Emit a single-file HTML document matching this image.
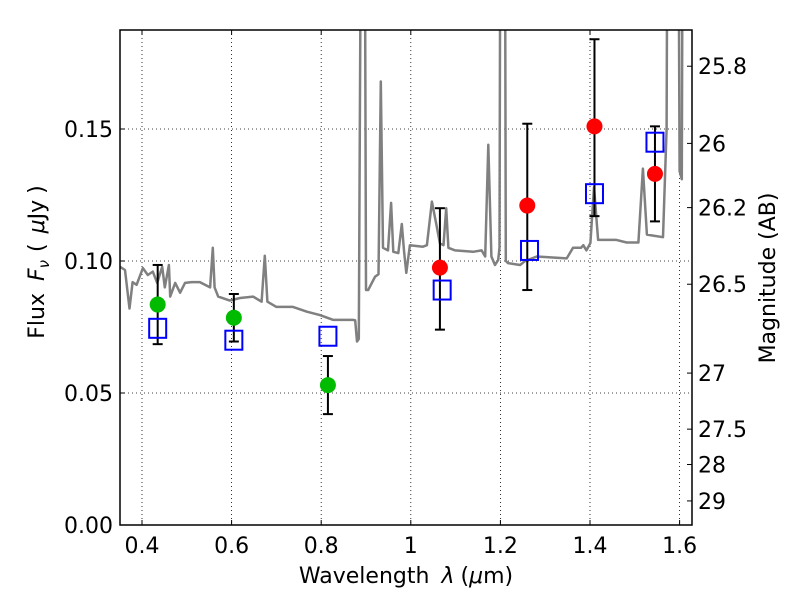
<!DOCTYPE html>
<html><head><meta charset="utf-8"><style>
body{margin:0;background:#fff;}
svg text{font-family:"DejaVu Sans","Liberation Sans",sans-serif;fill:#000;}
</style></head><body>
<svg id="chart" width="800" height="600" xmlns="http://www.w3.org/2000/svg"></svg>
<script>
const xTicks=[0.4,0.6,0.8,1.0,1.2,1.4,1.6];
const xTickLabels=["0.4","0.6","0.8","1","1.2","1.4","1.6"];
const yTicks=[0,0.05,0.10,0.15];
const yTickLabels=["0.00","0.05","0.10","0.15"];
const magTicks=[25.8,26,26.2,26.5,27,27.5,28,29];
const magLabels=["25.8","26","26.2","26.5","27","27.5","28","29"];
const greenWave=[0.435,0.605,0.815];
const greenFlux=[0.0835,0.0785,0.053];
const greenLo=[0.0685,0.0695,0.042];
const greenHi=[0.0985,0.0875,0.064];
const redWave=[1.065,1.26,1.41,1.545];
const redFlux=[0.0975,0.121,0.151,0.133];
const redLo=[0.074,0.089,0.117,0.115];
const redHi=[0.120,0.152,0.184,0.151];
const modelWave=[0.435,0.605,0.815,1.07,1.265,1.41,1.545];
const modelFlux=[0.0745,0.070,0.0715,0.089,0.104,0.1255,0.145];
const specWave=[0.351,0.362,0.372,0.379,0.388,0.402,0.413,0.424,0.434,0.445,0.451,0.46,0.463,0.474,0.485,0.496,0.511,0.529,0.552,0.558,0.562,0.57,0.596,0.619,0.648,0.667,0.674,0.68,0.70,0.737,0.768,0.797,0.827,0.871,0.876,0.880,0.884,0.889,0.893,0.897,0.9,0.905,0.92,0.928,0.933,0.938,0.949,0.956,0.961,0.972,0.98,0.985,0.99,0.998,1.027,1.036,1.047,1.058,1.065,1.073,1.079,1.084,1.099,1.139,1.158,1.166,1.173,1.18,1.188,1.195,1.198,1.2,1.21,1.212,1.217,1.244,1.255,1.281,1.348,1.362,1.38,1.385,1.392,1.401,1.409,1.418,1.429,1.459,1.482,1.496,1.508,1.518,1.527,1.563,1.571,1.573,1.597,1.60,1.605,1.607,1.63];
const specFlux=[0.0978,0.0966,0.082,0.092,0.091,0.0973,0.0947,0.096,0.0917,0.0978,0.090,0.0985,0.0865,0.0917,0.088,0.0917,0.092,0.092,0.090,0.105,0.090,0.0865,0.085,0.086,0.0865,0.0846,0.102,0.0846,0.0826,0.0826,0.0808,0.0795,0.0777,0.0777,0.0775,0.0695,0.0705,0.25,0.25,0.25,0.089,0.089,0.094,0.095,0.168,0.105,0.104,0.122,0.1035,0.103,0.114,0.1035,0.0955,0.106,0.1054,0.106,0.1225,0.113,0.1067,0.106,0.12,0.105,0.104,0.1035,0.104,0.1017,0.144,0.1017,0.0985,0.1004,0.105,0.25,0.25,0.1,0.0992,0.0985,0.1,0.1017,0.101,0.105,0.105,0.106,0.104,0.1068,0.128,0.108,0.108,0.108,0.107,0.107,0.107,0.135,0.110,0.109,0.150,0.25,0.25,0.134,0.131,0.25,0.25];

const NS="http://www.w3.org/2000/svg";
const svg=document.getElementById('chart');
const L=120,R=692,T=30,B=525;
function X(w){return 142+(w-0.4)*448;}
function Y(f){return B-f*2640;}
function mk(tag,attrs,parent){const e=document.createElementNS(NS,tag);for(const k in attrs)e.setAttribute(k,attrs[k]);(parent||svg).appendChild(e);return e;}

const defs=mk('defs',{});
const cp=mk('clipPath',{id:'clip'},defs);
mk('rect',{x:L,y:T,width:R-L,height:B-T},cp);

xTicks.forEach((t,i)=>{
  const g=mk('line',{x1:X(t),x2:X(t),y1:T,y2:B,stroke:'#000','stroke-width':0.8,'stroke-dasharray':'1,3'});
  
  
  mk('line',{x1:X(t),x2:X(t),y1:B,y2:B-5,stroke:'#000'});
  mk('line',{x1:X(t),x2:X(t),y1:T,y2:T+5,stroke:'#000'});
  const tx=mk('text',{x:X(t),y:B+28,'text-anchor':'middle','font-size':22});
  tx.textContent=xTickLabels[i];
  
  
});
yTicks.forEach((t,i)=>{
  if(t>0){
    const g=mk('line',{x1:L,x2:R,y1:Y(t),y2:Y(t),stroke:'#000','stroke-width':0.8,'stroke-dasharray':'1,3'});
    
    
  }
  mk('line',{x1:L,x2:L+5,y1:Y(t),y2:Y(t),stroke:'#000'});
  const tx=mk('text',{x:L-7,y:Y(t)+8,'text-anchor':'end','font-size':22});
  tx.textContent=yTickLabels[i];
  
  
});
magTicks.forEach((m,i)=>{
  const f=Math.pow(10,-(m-23.9)/2.5);
  const y=Y(f);
  mk('line',{x1:R-5,x2:R,y1:y,y2:y,stroke:'#000'});
  const tx=mk('text',{x:R+6,y:y+8,'font-size':22});
  tx.textContent=magLabels[i];
  
  
});

const g=mk('g',{'clip-path':'url(#clip)'});
const pts=specWave.map((w,i)=>X(w).toFixed(1)+','+Y(specFlux[i]).toFixed(1)).join(' ');
const sp=mk('polyline',{points:pts,fill:'none',stroke:'#808080','stroke-width':2.5,'stroke-linejoin':'round'},g);



function errbar(w,lo,hi){
  const x=X(w);
  const e=mk('g',{stroke:'#000','stroke-width':2},g);
  
  
  mk('line',{x1:x,x2:x,y1:Y(lo),y2:Y(hi)},e);
  mk('line',{x1:x-5,x2:x+5,y1:Y(lo),y2:Y(lo)},e);
  mk('line',{x1:x-5,x2:x+5,y1:Y(hi),y2:Y(hi)},e);
}
greenWave.forEach((w,i)=>errbar(w,greenLo[i],greenHi[i]));
redWave.forEach((w,i)=>errbar(w,redLo[i],redHi[i]));
greenWave.forEach((w,i)=>{
  const c=mk('circle',{cx:X(w),cy:Y(greenFlux[i]),r:8,fill:'#00bb00'},g);
  
  
});
redWave.forEach((w,i)=>{
  const c=mk('circle',{cx:X(w),cy:Y(redFlux[i]),r:8,fill:'#ff0000'},g);
  
  
});
modelWave.forEach((w,i)=>{
  const r=mk('rect',{x:X(w)-8.5,y:Y(modelFlux[i])-9.5,width:17,height:19,fill:'none',stroke:'#0000ff','stroke-width':2},g);
  
  
});

const fr=mk('rect',{x:L,y:T,width:R-L,height:B-T,fill:'none',stroke:'#000','stroke-width':1.5});



const xl=mk('text',{x:406,y:583,'text-anchor':'middle','font-size':22});
xl.innerHTML='Wavelength<tspan dx="12" font-style="italic">λ</tspan><tspan dx="6">(</tspan><tspan font-style="italic">μ</tspan>m)';


const yl=mk('text',{x:0,y:0,'text-anchor':'middle','font-size':22,transform:'translate(44,262) rotate(-90)'});
yl.innerHTML='Flux<tspan dx="12" font-style="italic">F</tspan><tspan font-style="italic" font-size="15" dy="5">ν</tspan><tspan dy="-5" dx="8">(</tspan><tspan dx="10" font-style="italic">μ</tspan>Jy<tspan dx="6">)</tspan>';


const rl=mk('text',{x:0,y:0,'text-anchor':'middle','font-size':22,transform:'translate(775,278) rotate(-90)'});
rl.textContent='Magnitude (AB)';


</script>
</body></html>
